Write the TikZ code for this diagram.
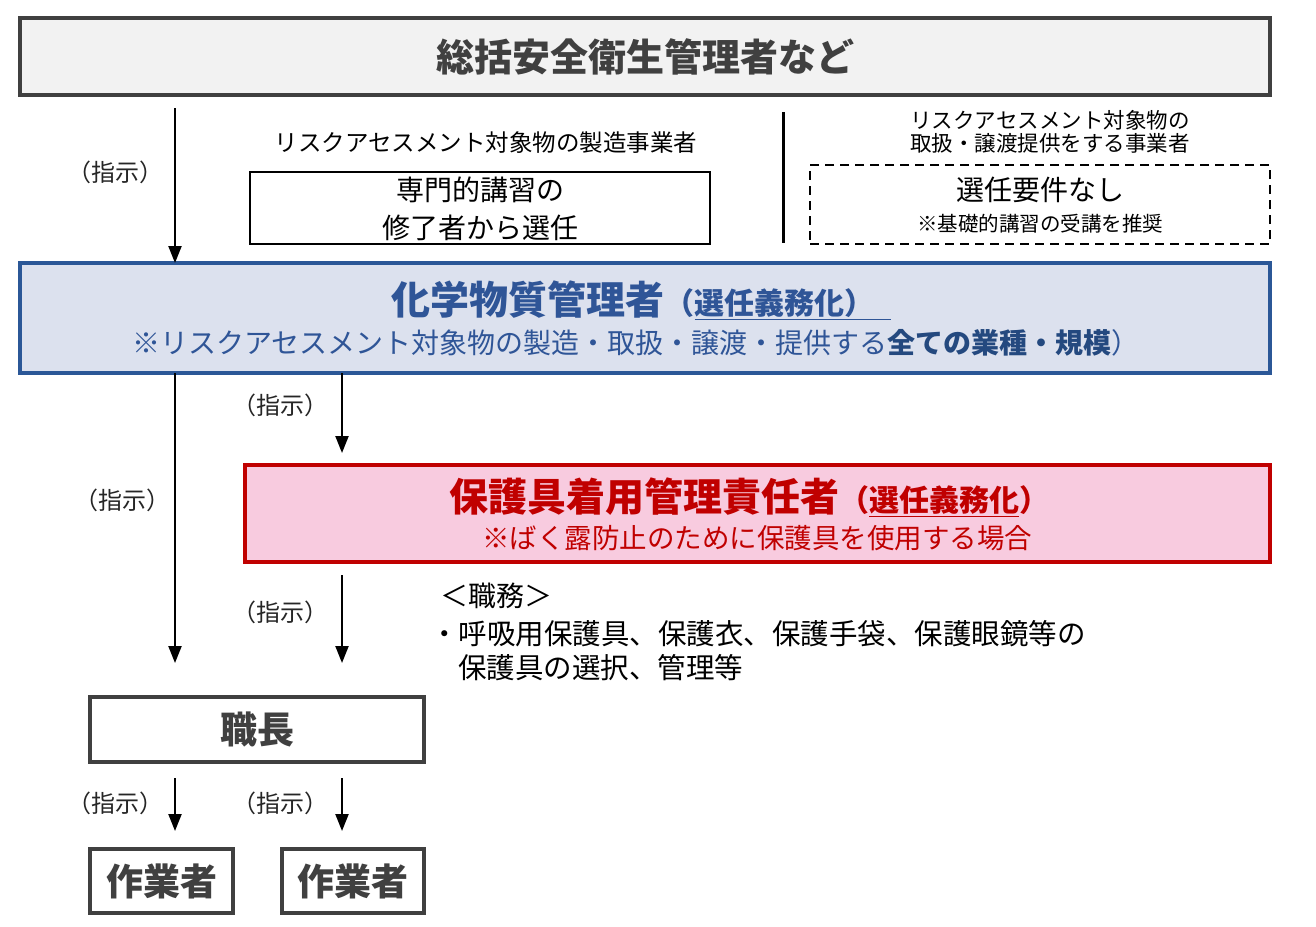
\documentclass[tikz,border=0pt]{standalone}
\usepackage{fontspec}
\setmainfont{Noto Sans CJK JP}
\usetikzlibrary{arrows.meta,calc}
\definecolor{dgray}{HTML}{404040}
\definecolor{topfill}{HTML}{F2F2F2}
\definecolor{bluefill}{HTML}{DCE1EE}
\definecolor{blueline}{HTML}{2B5797}
\definecolor{bluetext}{HTML}{2F5597}
\definecolor{bluedark}{HTML}{24497F}
\definecolor{redfill}{HTML}{F8CBDF}
\definecolor{redline}{HTML}{C00000}
\definecolor{lbl}{HTML}{262626}
\newcommand{\fs}[2]{\fontsize{#1}{#2}\selectfont}
\tikzset{
  boxbase/.style={rectangle, inner sep=0pt, outer sep=0pt},
  graybox/.style={boxbase, draw=dgray, line width=4pt},
  thinbox/.style={boxbase, draw=black, line width=2pt},
  dashbox/.style={boxbase, draw=black, line width=2pt, dash pattern=on 9pt off 6pt},
  bluebox/.style={boxbase, draw=blueline, fill=bluefill, line width=4pt},
  redbox/.style={boxbase, draw=redline, fill=redfill, line width=4pt},
  arr/.style={line width=2.2pt, -{Triangle[length=17pt,width=13pt]}},
  lab/.style={inner sep=0pt, text=lbl, font=\fs{24}{28}},
  txt/.style={inner sep=0pt, text=black}
}
\begin{document}
\begin{tikzpicture}[x=1pt,y=-1pt]
\useasboundingbox (0,0) rectangle (1316,926);
\fill[white] (0,0) rectangle (1316,926);
\coordinate (xL) at (175,0);
\coordinate (xR) at (342,0);

% top box
\node[graybox, fill=topfill, minimum width=1250pt, minimum height=77pt] (top) at (645,56.5) {};
\node[txt, text=dgray, font=\fs{38}{44}\bfseries] (toptxt) at (645,57) {総括安全衛生管理者など};

% manufacturer
\node[txt, font=\fs{23.5}{27}] (manlbl) at (486,143) {リスクアセスメント対象物の製造事業者};
\node[thinbox, minimum width=460pt, minimum height=72pt] (spec) at (480,208) {};
\node[txt, font=\fs{28}{38}, align=center] (spectxt) at (480,209) {専門的講習の\\修了者から選任};

% separator
\draw[line width=3pt] (783,112) -- (783,243);

% handlers
\node[txt, font=\fs{21.5}{23}, align=center] (hndlbl) at (1050,131.5) {リスクアセスメント対象物の\\取扱・譲渡提供をする事業者};
\node[dashbox, minimum width=460pt, minimum height=79pt] (nreq) at (1040,204.5) {};
\node[txt, font=\fs{28}{30}] (nreqa) at (1040,190) {選任要件なし};
\node[txt, font=\fs{20.5}{22}] (nreqb) at (1040,224) {※基礎的講習の受講を推奨};

% blue box
\node[bluebox, minimum width=1250pt, minimum height=110pt] (blue) at (645,318) {};
\node[txt, text=bluetext, font=\fs{39}{44}\bfseries] (bluet) at (641,300)
  {化学物質管理者{\fs{30}{34}（\underline{選任義務化）\hspace{16pt}}}};
\node[txt, text=bluetext, font=\fs{28}{32}] (blues) at (636,343)
  {※リスクアセスメント対象物の製造・取扱・譲渡・提供する{\bfseries\color{bluedark}全ての業種・規模}）};

% red box
\node[redbox, minimum width=1025pt, minimum height=97pt] (red) at (757.5,513.5) {};
\node[txt, text=redline, font=\fs{39}{44}\bfseries] (redt) at (749,497)
  {保護具着用管理責任者{\fs{30}{34}（\underline{選任義務化}）}};
\node[txt, text=redline, font=\fs{27.5}{30}] (reds) at (757,538)
  {※ばく露防止のために保護具を使用する場合};

% duties
\node[txt, anchor=west, font=\fs{28}{30}] (duty1) at (440,596) {＜職務＞};
\node[txt, anchor=west, font=\fs{28.5}{30}] (duty2) at (430,634) {・呼吸用保護具、保護衣、保護手袋、保護眼鏡等の};
\node[txt, anchor=west, font=\fs{28.5}{30}] (duty3) at (458,668) {保護具の選択、管理等};

% foreman and workers
\node[graybox, fill=white, minimum width=334pt, minimum height=65pt, text=dgray, font=\fs{37}{40}\bfseries] (boss) at (257,729.5) {職長};
\node[graybox, fill=white, minimum width=143pt, minimum height=64pt, text=dgray, font=\fs{37}{40}\bfseries] (w1) at (161.5,881) {作業者};
\node[graybox, fill=white, minimum width=142pt, minimum height=64pt, text=dgray, font=\fs{37}{40}\bfseries] (w2) at (353,881) {作業者};

% arrows
\draw[arr] ($(top.south -| xL)+(0,13)$) -- (blue.north -| xL);
\draw[arr] (blue.south -| xL) -- ($(boss.north -| xL)+(0,-34)$);
\draw[arr] (blue.south -| xR) -- ($(red.north -| xR)+(0,-12)$);
\draw[arr] ($(red.south -| xR)+(0,13)$) -- ($(boss.north -| xR)+(0,-34)$);
\draw[arr] ($(boss.south -| xL)+(0,16)$) -- ($(w1.north -| xL)+(0,-18)$);
\draw[arr] ($(boss.south -| xR)+(0,16)$) -- ($(w2.north -| xR)+(0,-18)$);

% labels
\node[lab] (l1) at (115,172) {（指示）};
\node[lab] (l2) at (122,500) {（指示）};
\node[lab] (l3) at (280,405) {（指示）};
\node[lab] (l4) at (280,612) {（指示）};
\node[lab] (l5) at (115,803) {（指示）};
\node[lab] (l6) at (280,803) {（指示）};
\end{tikzpicture}
\end{document}
